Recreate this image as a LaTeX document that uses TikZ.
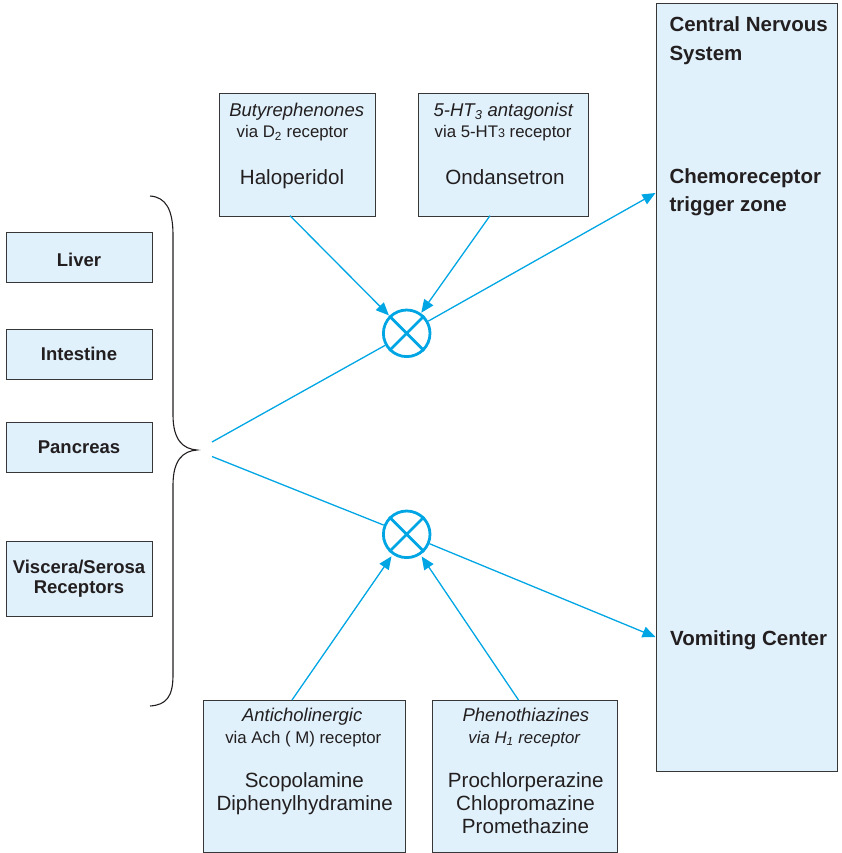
\documentclass[tikz,border=0pt]{standalone}
\usepackage{fontspec}
\setmainfont{Liberation Sans}
\usetikzlibrary{arrows.meta,calc}
\definecolor{lineblue}{RGB}{0,166,228}
\definecolor{boxfill}{RGB}{224,241,251}
\definecolor{boxdraw}{RGB}{55,55,55}
\definecolor{txt}{RGB}{35,31,32}
\newcommand{\hdr}{\fontsize{18.5}{22}\selectfont\itshape}
\newcommand{\via}{\fontsize{16.8}{20}\selectfont}
\newcommand{\drug}{\fontsize{20.6}{24}\selectfont}
\newcommand{\lbl}{\fontsize{18.5}{22}\selectfont\bfseries}
\newcommand{\cns}{\fontsize{20.5}{24}\selectfont\bfseries}
\begin{document}
\begin{tikzpicture}[x=1pt,y=-1pt,
  box/.style={draw=boxdraw,fill=boxfill,line width=1.1pt,inner sep=0pt,anchor=north west},
  txtnode/.style={text=txt,inner sep=0pt,anchor=base},
  txtleft/.style={text=txt,inner sep=0pt,anchor=base west},
  conn/.style={draw=lineblue,line width=1.3pt},
  arr/.style={conn,-{Triangle[length=13pt,width=11pt]}},
  blocker/.style={circle,draw=lineblue,line width=2.8pt,minimum size=46.6pt,inner sep=0pt}
]
\useasboundingbox (0,0) rectangle (841,853);

% left organ boxes
\node[box,minimum width=146pt,minimum height=50pt] (liver) at (5.7,232.3) {};
\node[box,minimum width=146pt,minimum height=50pt] (intestine) at (5.7,329) {};
\node[box,minimum width=146pt,minimum height=50pt] (pancreas) at (5.7,421.7) {};
\node[box,minimum width=146pt,minimum height=75pt] (viscera) at (5.7,541) {};
\node[txtnode] (tliver) at (79,266.7) {\lbl Liver};
\node[txtnode] (tint) at (79,360) {\lbl Intestine};
\node[txtnode] (tpan) at (79,453) {\lbl Pancreas};
\node[txtnode] (tvis1) at (79,573.3) {\lbl Viscera/Serosa};
\node[txtnode] (tvis2) at (79,593.3) {\lbl Receptors};

% CNS box
\node[box,minimum width=181.6pt,minimum height=768pt] (cns) at (655.7,2.7) {};
\node[txtleft] (tc1) at (669.3,31.7) {\cns Central Nervous};
\node[txtleft] (tc2) at (669.3,60.7) {\cns System};
\node[txtleft] (tc3) at (669.3,183) {\cns Chemoreceptor};
\node[txtleft] (tc4) at (669.3,211.7) {\cns trigger zone};
\node[txtleft] (tc5) at (670,645) {\cns Vomiting Center};

% top drug boxes
\node[box,minimum width=156pt,minimum height=122.4pt] (b1) at (219,93.3) {};
\node[txtnode] (b1a) at (296.7,116.7) {\hdr Butyrephenones};
\node[txtnode] (b1b) at (292.5,137.7) {\via via D\textsubscript{2} receptor};
\node[txtnode] (b1c) at (292,185) {\drug Haloperidol};

\node[box,minimum width=170pt,minimum height=122.4pt] (b2) at (417.7,93.3) {};
\node[txtnode] (b2a) at (503.3,116.7) {\hdr 5-HT\textsubscript{3} antagonist};
\node[txtnode] (b2b) at (503,137.7) {\via via 5-HT{\fontsize{12.5}{14}\selectfont 3} receptor};
\node[txtnode] (b2c) at (505,185) {\drug Ondansetron};

% bottom drug boxes
\node[box,minimum width=201.7pt,minimum height=151.7pt] (b3) at (203.3,700) {};
\node[txtnode] (b3a) at (302.2,721.7) {\hdr Anticholinergic};
\node[txtnode] (b3b) at (303.3,743) {\via via Ach ( M) receptor};
\node[txtnode] (b3c) at (304.3,787.5) {\drug Scopolamine};
\node[txtnode] (b3d) at (304.7,810.5) {\drug Diphenylhydramine};

\node[box,minimum width=185pt,minimum height=151.7pt] (b4) at (431.7,700) {};
\node[txtnode] (b4a) at (525.8,721.7) {\hdr Phenothiazines};
\node[txtnode] (b4b) at (524.2,743) {\via\itshape via H\textsubscript{1} receptor};
\node[txtnode] (b4c) at (525.8,787.5) {\drug Prochlorperazine};
\node[txtnode] (b4d) at (525.5,810.5) {\drug Chlopromazine};
\node[txtnode] (b4e) at (525.5,833.5) {\drug Promethazine};

% brace
\draw[draw=txt,line width=1.1pt] (150,196) .. controls (166,197) and (173,210) .. (173,235)
  -- (173,415) .. controls (173,440) and (183,449) .. (197,450)
  .. controls (183,451) and (173,460) .. (173,485)
  -- (173,675) .. controls (173,697) and (166,705) .. (150,706);

% blockers
\node[blocker] (c1) at (406.7,333.3) {};
\node[blocker] (c2) at (406.7,534.3) {};
\draw[draw=lineblue,line width=2.8pt] (c1.north west) -- (c1.south east) (c1.north east) -- (c1.south west);
\draw[draw=lineblue,line width=2.8pt] (c2.north west) -- (c2.south east) (c2.north east) -- (c2.south west);

% coordinates
\coordinate (br1) at (212,442);
\coordinate (br2) at (212,456.5);
\coordinate (ctz) at (655.5,193);
\coordinate (vc) at (655.5,637);
\coordinate (s1) at (290,215.7);
\coordinate (s2) at (490,215.7);
\coordinate (s3) at (292,700);
\coordinate (s4) at (518.5,700);

% connectors
\draw[conn] (br1) -- (c1);
\draw[arr] (c1) -- (ctz);
\draw[conn] (br2) -- (c2);
\draw[arr] (c2) -- (vc);
\draw[arr,shorten >=0.5pt] (s1) -- (c1);
\draw[arr,shorten >=0.5pt] (s2) -- (c1);
\draw[arr,shorten >=2pt] (s3) -- (c2);
\draw[arr,shorten >=2pt] (s4) -- (c2);
\end{tikzpicture}
\end{document}
